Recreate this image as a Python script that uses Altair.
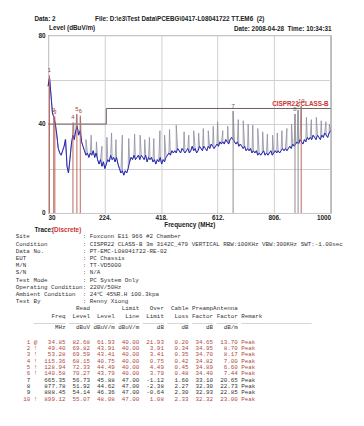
import altair as alt
import pandas as pd

# ---------------- data ----------------
# receiver sweep (blue trace), 30..1000 MHz every 5 MHz, dBuV/m
trace_freq = list(range(30, 1001, 5))
trace_level = [
    57, 61, 53, 45, 43, 40, 35, 29, 27, 26, 28, 30, 33, 21, 18,                       # 30-100
    24, 31, 35, 33, 37, 39, 35, 37, 32, 30, 28, 26, 27, 25, 27, 26, 28, 25, 27, 24,   # 105-200
    22, 24, 21, 23, 20, 22, 24, 23, 26, 24, 25, 23, 25, 22, 20, 18, 19, 17, 19, 18,   # 205-300
    20, 23, 25, 24, 26, 24, 25, 26, 24, 26, 25, 24, 26, 23, 25, 24, 25, 23, 24, 22,   # 305-400
    24, 23, 25, 22, 24, 23, 25, 26, 27, 26, 28, 27, 28, 27, 29, 28, 27, 29, 28, 27,   # 405-500
    28, 29, 27, 28, 30, 28, 29, 27, 28, 30, 29, 28, 30, 29, 28, 30, 29, 31, 30, 29,   # 505-600
    30, 31, 30, 32, 31, 32, 31, 33, 32, 31, 33, 34, 33, 32, 31, 32, 30, 31, 30, 29,   # 605-700
    30, 28, 29, 28, 29, 27, 28, 27, 28, 26, 27, 26, 27, 28, 26, 27, 26, 27, 28, 26,   # 705-800
    27, 28, 27, 28, 27, 28, 29, 28, 29, 28, 29, 30, 29, 31, 30, 31, 32, 31, 33, 32,   # 805-900
    31, 33, 32, 34, 33, 34, 33, 35, 34, 33, 35, 34, 33, 35, 34, 36, 35, 34, 36, 37,   # 905-1000
]

# narrow peaks of the sweep (grey spikes)
spike_freq = [88, 118, 128, 141, 160, 178, 196, 215, 232, 248, 263, 285, 307, 327,
              346, 362, 378, 393, 414, 430, 447, 470, 497, 513, 530, 547, 563, 580,
              597, 612, 630, 647, 665.35, 683, 700, 717, 733, 750, 767, 783, 801,
              817, 833, 850, 866, 877.78, 888.45, 899.12, 917, 934, 951, 968, 984, 996]
spike_level = [33, 40.5, 44.3, 43.6, 33, 35, 32, 30, 34, 36, 33, 35, 33.5, 35.5,
               35, 33, 34, 33.5, 37, 35, 37.5, 39.5, 36.5, 35, 37, 36, 38, 37,
               39, 41, 37, 39, 45.8, 42, 41.5, 40, 39.5, 38, 36.5, 35.5, 35,
               36, 37, 38, 40, 44.5, 46.2, 48, 43, 42, 43, 41.5, 41, 40]

# CISPR22 class B limit
limit_freq = [30, 230, 230, 1000]
limit_level = [40, 40, 47, 47]

# marker table
mk_no = [1, 2, 3, 4, 5, 6, 7, 8, 9, 10]
mk_flag = ["@", "!", "!", "!", "!", "!", " ", " ", " ", "!"]
mk_freq = [34.85, 49.40, 53.28, 115.36, 128.94, 140.58, 665.35, 877.78, 888.45, 899.12]
mk_read = [82.68, 69.82, 69.59, 68.15, 72.33, 70.27, 56.73, 51.92, 54.14, 55.07]
mk_level = [61.93, 43.91, 43.41, 40.75, 44.49, 43.79, 45.88, 44.62, 46.36, 48.08]
mk_limit = [40.00, 40.00, 40.00, 40.00, 40.00, 40.00, 47.00, 47.00, 47.00, 47.00]
mk_over = [21.93, 3.91, 3.41, 0.75, 4.49, 3.79, -1.12, -2.38, -0.64, 1.08]
mk_cable = [0.20, 0.34, 0.35, 0.42, 0.45, 0.48, 1.60, 2.27, 2.30, 2.33]
mk_preamp = [34.65, 34.95, 34.70, 34.82, 34.89, 34.40, 33.10, 32.30, 32.93, 32.32]
mk_ant = [13.70, 8.70, 8.17, 7.00, 6.60, 7.44, 20.65, 22.73, 22.85, 23.00]
mk_remark = ["Peak"] * 10

x_ticks = [30, 127, 224, 321, 418, 515, 612, 709, 806, 903, 1000]
x_label_ticks = [30, 224, 418, 612, 806, 1000]
y_ticks = [0, 10, 20, 30, 40, 50, 60, 70, 80]
y_label_ticks = [0, 40, 80]

header_left = "Data: 2"
header_file = "File: D:\\e3\\Test Data\\PCEBG\\0417-L08041722 TT.EM6  (2)"
header_date = "Date: 2008-04-28  Time: 10:34:31"
y_title = "Level (dBuV/m)"
x_title = "Frequency (MHz)"
limit_name = "CISPR22 CLASS-B"

info_labels = ["Site", "Condition", "Data No.", "EUT", "M/N", "S/N", "Test Mode",
               "Operating Condition", "Ambient Condition", "Test By"]
info_values = ["Foxconn E11 966 #2 Chamber",
               "CISPR22 CLASS-B 3m 3142C_479 VERTICAL RBW:100KHz VBW:300KHz SWT:-1.00sec",
               "PT-EMC-L08041722-RE-02", "PC Chassis", "TT-VD5000", "N/A",
               "PC System Only", "220V/50Hz", "24\u2103 45%R.H 100.3kpa", "Renny Xiong"]

# ---------------- tables built from the arrays ----------------
NB = "\u00a0"     # keeps the fixed-width columns (SVG collapses plain spaces)
ZW = "\u200b"     # zero-width lead so that leading blanks are not trimmed


def keep(s):
    return ZW + s.replace(" ", NB)


trace_df = pd.DataFrame({"freq": trace_freq, "level": trace_level})
peak_df = pd.concat([trace_df, pd.DataFrame({"freq": spike_freq, "level": spike_level})]) \
    .sort_values("freq").reset_index(drop=True)
limit_df = pd.DataFrame({"freq": limit_freq, "level": limit_level, "i": range(len(limit_freq))})
mk_df = pd.DataFrame({"freq": mk_freq, "level": mk_level, "no": [str(n) for n in mk_no],
                      "over": mk_over})

info_text = "\n".join(keep(f"{l:<19}: {v}") for l, v in zip(info_labels, info_values))
head1 = " " * 13 + f"{'Read':>7}" + " " * 7 + f"{'Limit':>7}{'Over':>7}{'Cable':>7}{'Preamp':>7}{'Antenna':>7}"
head2 = f"{'Freq':>13}{'Level':>7}{'Level':>7}{'Line':>7}{'Limit':>7}{'Loss':>7}{'Factor':>7}{'Factor':>7} Remark"
head_text = keep(head1) + "\n" + keep(head2)
rules_text = keep(" " * 4 + "_" * 9 + (" " + "_" * 6) * 7 + " " + "_" * 20)
units_text = keep(f"{'MHz':>13}{'dBuV':>7}{'dBuV/m':>7}{'dBuV/m':>7}{'dB':>7}{'dB':>7}{'dB':>7}{'dB/m':>7}")

rows = []
for k in range(len(mk_no)):
    rows.append(keep(f"{mk_no[k]:>3} {mk_flag[k]}{mk_freq[k]:>8.2f}{mk_read[k]:>7.2f}{mk_level[k]:>7.2f}"
                     f"{mk_limit[k]:>7.2f}{mk_over[k]:>7.2f}{mk_cable[k]:>7.2f}{mk_preamp[k]:>7.2f}"
                     f"{mk_ant[k]:>7.2f} {mk_remark[k]}"))
rows_df = pd.DataFrame({"row": mk_no, "t": rows, "over": mk_over})

# ---------------- chart ----------------
SANS = "Liberation Sans"
MONO = "Liberation Mono"
xs = alt.Scale(domain=[30, 1000], nice=False, zero=False)
ys = alt.Scale(domain=[0, 80], nice=False, zero=False)

x_label_expr = ("indexof([" + ",".join(str(v) for v in x_label_ticks[1:-1]) + "], datum.value) >= 0 ? datum.value + '.' : "
                "(datum.value == " + str(x_label_ticks[0]) + " || datum.value == " + str(x_label_ticks[-1]) +
                ") ? datum.value + '' : ''")
y_label_expr = "indexof([" + ",".join(str(v) for v in y_label_ticks) + "], datum.value) >= 0 ? datum.label : ''"

x_axis = alt.Axis(values=x_ticks, labelExpr=x_label_expr, grid=True, gridColor="#cfcfcf",
                  ticks=False, domain=False, labelFlush=True, labelOverlap=False,
                  labelPadding=2, labelFont=SANS, labelFontSize=6.5, labelFontWeight="bold",
                  labelColor="#222", title=x_title, titleFont=SANS, titleFontSize=6.5,
                  titleFontWeight="bold", titleColor="#222", titlePadding=0)
y_axis = alt.Axis(values=y_ticks, labelExpr=y_label_expr, grid=True, gridColor="#cfcfcf",
                  ticks=False, domain=False, labelPadding=3, labelFont=SANS, labelFontSize=6.5,
                  labelFontWeight="bold", labelColor="#222", title="")


def X():
    return alt.X("freq:Q", scale=xs, axis=x_axis)


def Y():
    return alt.Y("level:Q", scale=ys, axis=y_axis)


limit_layer = alt.Chart(limit_df).mark_line(color="#6a5c5c", strokeWidth=1).encode(
    x=X(), y=Y(), order="i:Q")

peak_layer = alt.Chart(peak_df).mark_line(color="#8c8c9e", strokeWidth=0.8).encode(
    x=X(), y=Y(), order="freq:Q")

trace_layer = alt.Chart(trace_df).mark_line(color="#2424b8", strokeWidth=1).encode(
    x=X(), y=Y(), order="freq:Q")

marker_rules = alt.Chart(mk_df).mark_rule(strokeWidth=1).encode(
    x=X(), y=Y(), y2=alt.Y2Datum(0),
    color=alt.condition("datum.over > 0", alt.value("#c0645a"), alt.value("#8c8c8c")),
)

marker_text = alt.Chart(mk_df).mark_text(font=SANS, fontSize=6, baseline="middle", dy=-5).encode(
    x=X(), y=Y(), text="no:N",
    color=alt.condition("datum.over > 0", alt.value("#a8403a"), alt.value("#555555")),
)

limit_label = alt.Chart(pd.DataFrame({"t": [limit_name]})).mark_text(
    font=SANS, fontSize=6.5, fontWeight="bold", color="#cc3333", align="right",
    baseline="middle", dx=-2, dy=-5).encode(
    x=alt.XDatum(limit_freq[-1]), y=alt.YDatum(limit_level[-1]), text="t:N")


def label(txt, x, y, align="left", color="#222", font=SANS, size=6.5, weight="bold",
          baseline="middle", line_height=None):
    kw = dict(font=font, fontSize=size, fontWeight=weight, color=color, align=align,
              baseline=baseline, lineBreak="\n")
    if line_height:
        kw["lineHeight"] = line_height
    return alt.Chart(pd.DataFrame({"t": [txt]})).mark_text(**kw).encode(
        x=alt.value(x), y=alt.value(y), text="t:N")


texts = [
    label(header_left, -14, -16),
    label(keep(header_file), 48, -16),
    label(y_title, 1, -7),
    label(keep(header_date), 290, -6, align="right"),
    label("Trace:", -14, 199),
    label("(Discrete)", 4, 199, color="#cc3333"),
    label(info_text, -33, 203, font=MONO, size=6, weight="normal", baseline="top",
          line_height=7.35, color="#333"),
    label(head_text, -29, 276, font=MONO, size=6, weight="normal", baseline="top",
          line_height=8, color="#333"),
    label(rules_text, -29, 295, font=MONO, size=6, weight="normal", baseline="alphabetic",
          color="#555"),
    label(units_text, -29, 296, font=MONO, size=6, weight="normal", baseline="top", color="#333"),
]

main = alt.layer(limit_layer, peak_layer, trace_layer, marker_rules, marker_text, limit_label, *texts)

# table rows: one line per marker, stacked by their own row scale
table = alt.Chart(rows_df).mark_text(font=MONO, fontSize=6, align="left", baseline="middle").encode(
    x=alt.value(-29),
    y=alt.Y("row:Q", scale=alt.Scale(domain=[1, 10], range=[313.5, 372]), axis=None),
    text="t:N",
    color=alt.condition("datum.over > 0", alt.value("#b04a44"), alt.value("#333333")),
)

chart = alt.layer(main, table).resolve_scale(y="independent").properties(
    width=289, height=182,
    autosize=alt.AutoSizeParams(type="none"),
    padding={"left": 41, "top": 23, "right": 26, "bottom": 205},
    background="white",
).configure_view(stroke="#5a5a5a", strokeWidth=1)

chart.save("out.html", embed_options={"renderer": "svg", "actions": False})
